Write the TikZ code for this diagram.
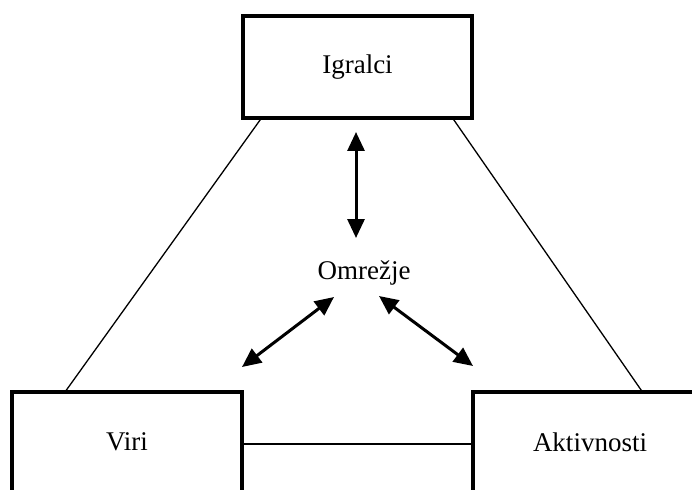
\documentclass[tikz,border=0pt]{standalone}
\usepackage{fontspec}
\setmainfont{Liberation Serif}
\usetikzlibrary{arrows.meta}
\begin{document}
\begin{tikzpicture}[x=1pt,y=-1pt,
  box/.style={draw, line width=3.5pt, inner sep=0pt, font=\fontsize{27}{31}\selectfont},
  label/.style={inner sep=0pt, font=\fontsize{27}{31}\selectfont},
  link/.style={line width=1.3pt},
  dblarrow/.style={line width=3pt, {Triangle[length=19pt,width=17pt]}-{Triangle[length=19pt,width=17pt]}}]
  \useasboundingbox (0,0) rectangle (692,489);
  \clip (0,0) rectangle (692,489);

  % three boxes
  \node[box, minimum width=229pt, minimum height=102pt] (igralci) at (357.5,67) {Igralci};
  \node[box, minimum width=230pt, minimum height=100pt] (viri) at (127,442) {Viri};
  \node[box, minimum width=240pt, minimum height=100pt, text depth=0pt] (akt) at (593,442) {};
  \node[label] (akttext) at (590,442) {Aktivnosti};

  % centre label
  \node[label] (omrezje) at (364,273) {Omrežje};

  % plain connections between the boxes
  \draw[link] ([xshift=19pt]igralci.south west) -- ([xshift=56pt]viri.north west);
  \draw[link] ([xshift=-20pt]igralci.south east) -- ([xshift=170pt]akt.north west);
  \draw[link] ([yshift=-2pt]viri.east) -- ([yshift=-2pt]akt.west);

  % double-headed arrows around the network label
  \coordinate (vtop) at (356,132);
  \coordinate (vbot) at (356,238);
  \coordinate (lup) at (334,297);
  \coordinate (ldown) at (242,367);
  \coordinate (rup) at (379,296);
  \coordinate (rdown) at (473,366);
  \draw[dblarrow] (vtop) -- (vbot);
  \draw[dblarrow] (lup) -- (ldown);
  \draw[dblarrow] (rup) -- (rdown);
\end{tikzpicture}
\end{document}
